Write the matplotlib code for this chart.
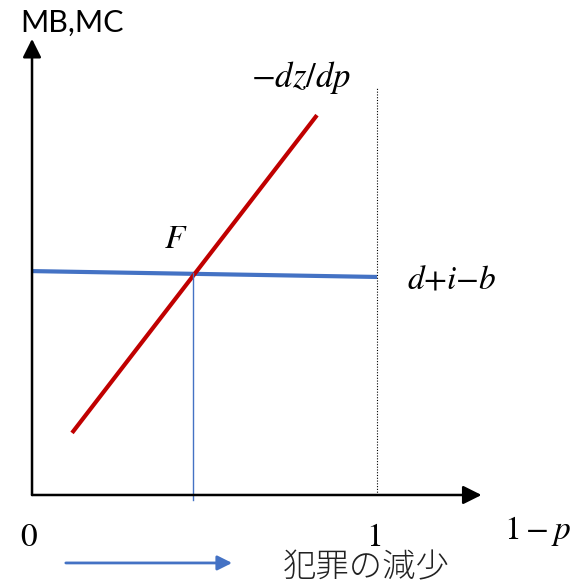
import matplotlib.pyplot as plt

plt.rcParams["mathtext.fontset"] = "stix"

# data in chart units: origin (0,0), x=1 is the "1" tick
red_x = [0.116, 0.826]          # -dz/dp
red_y = [0.180, 1.101]
blue_x = [0.0, 1.0]             # d+i-b
blue_y = [0.649, 0.632]
f_x, f_y = 0.467, 0.643         # intersection F
x_ticks = [0, 1]
x_tick_labels = ["0", "1"]

fig = plt.figure(figsize=(5.77, 5.86), dpi=100)
ax = fig.add_axes([0, 0, 1, 1])
ax.set_xlim(-0.0928, 1.5797)
ax.set_ylim(-0.2638, 1.4348)
ax.axis("off")

# axes with arrow heads
ax.annotate("", xy=(1.303, 0), xytext=(0, 0),
            arrowprops=dict(arrowstyle="-|>", lw=1.8, color="black", mutation_scale=28,
                            shrinkA=0, shrinkB=0))
ax.annotate("", xy=(0, 1.322), xytext=(0, 0),
            arrowprops=dict(arrowstyle="-|>", lw=1.8, color="black", mutation_scale=28,
                            shrinkA=0, shrinkB=0))

# dotted line at 1 - p = 1
ax.plot([1, 1], [0, 1.18], color="black", lw=0.8, ls=(0, (1, 1.5)))

# curves
ax.plot(blue_x, blue_y, color="#4472C4", lw=3, solid_capstyle="butt")
ax.plot(red_x, red_y, color="#C00000", lw=3, solid_capstyle="butt")
ax.plot([f_x, f_x], [f_y, -0.015], color="#4472C4", lw=1)

# labels
ax.text(-0.035, 1.37, "MB,MC", fontsize=22, family="Lato", ha="left", va="center")
ax.text(0.78, 1.21, r"$-dz/dp$", fontsize=25, ha="center", va="center")
ax.text(f_x - 0.05, f_y + 0.1, r"$F$", fontsize=24, ha="center", va="center")
ax.text(1.217, 0.625, r"$d{+}i{-}b$", fontsize=24, ha="center", va="center")
for xt, lab in zip(x_ticks, x_tick_labels):
    ax.text(xt - 0.01, -0.12, r"$\mathrm{%s}$" % lab, fontsize=24, ha="center", va="center")
ax.text(1.464, -0.105, r"$1-p$", fontsize=24, ha="center", va="center")

# crime reduction arrow
ax.annotate("", xy=(0.58, -0.197), xytext=(0.098, -0.197),
            arrowprops=dict(arrowstyle="-|>", lw=2, color="#4472C4", mutation_scale=22,
                            shrinkA=0, shrinkB=0))
ax.text(0.97, -0.212, "犯罪の減少", fontsize=24, family=["Noto Sans CJK JP", "DejaVu Sans"],
        fontweight="light", ha="center", va="center", color="#222222")

fig.savefig("out.png", dpi=100)
